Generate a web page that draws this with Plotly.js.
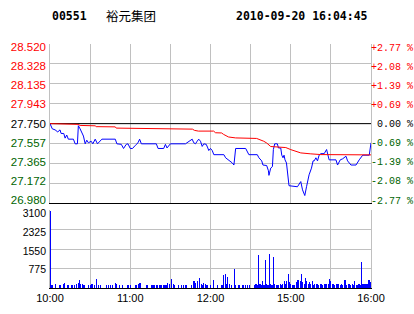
<!DOCTYPE html>
<html><head><meta charset="utf-8">
<script src="https://cdn.plot.ly/plotly-3.0.1.min.js"></script>
<style>html,body{margin:0;padding:0;background:#fff;}#chart{width:414px;height:314px;}
.barlayer path{shape-rendering:crispEdges;}</style>
</head><body><div id="chart"></div>
<script>
// ---- data ----
const stockCode = '00551';
const stockName = '裕元集团';
const stampText = '2010-09-20 16:04:45';
const prevClose = 27.75;
const priceTicks = [26.980, 27.172, 27.365, 27.557, 27.750, 27.943, 28.135, 28.328, 28.520];
const pctTicks = ['-2.77', '-2.08', '-1.39', '-0.69', '0.00', '+0.69', '+1.39', '+2.08', '+2.77'];
const volTicks = [775, 1550, 2325, 3100];
const timeTickVals = [0, 30, 60, 90, 120, 150, 180, 210, 240];   // trading minutes since 10:00
const timeTickText = ['10:00', '', '11:00', '', '12:00', '', '15:00', '', '16:00'];

// price line (trading minute, price)
const priceMin = [0, 1.7, 3.8, 5.8, 7.5, 8.3, 10.3, 11.3, 12.5, 13.7,
  17.5, 18.8, 20.5, 21.2, 22.5, 23.8, 25, 26.3, 27.5, 28.7,
  30.8, 32, 33.8, 35.5, 37.5, 38.8, 48.8, 50, 53.3, 55,
  57, 58.3, 60, 61.7, 63.8, 65.8, 67, 68.3, 79.5, 80.8,
  85, 86.3, 87.5, 88.7, 90, 101.3, 103, 105, 106.3, 107.5,
  108.8, 110, 111.2, 112.5, 113.8, 115, 116.8, 118, 118.7, 120,
  121.3, 122.5, 130, 131.3, 133.3, 135, 136.3, 137.5, 138.2, 138.8,
  146.3, 148.7, 155, 156.2, 158.3, 159.2, 162, 163.3, 163.7, 164.3,
  165, 166.3, 167, 168, 170, 170.8, 172.5, 173.3, 174.2, 175,
  175.7, 176.8, 177.5, 178.3, 178.7, 185, 187.5, 188.8, 190.5, 191.8,
  193.7, 195.5, 196.7, 197.5, 198.8, 200, 201.2, 202.5, 205, 206.8,
  207.5, 208.7, 213.8, 215, 217, 218.8, 221.3, 222.5, 225, 228.8,
  231.2, 233.8, 238.7, 239.5, 240];
const priceVal = [27.75, 27.70, 27.69, 27.67, 27.69, 27.655, 27.655, 27.61, 27.64, 27.60,
  27.60, 27.555, 27.555, 27.73, 27.70, 27.66, 27.63, 27.555, 27.59, 27.565,
  27.58, 27.555, 27.60, 27.555, 27.58, 27.60, 27.60, 27.555, 27.55, 27.51,
  27.55, 27.555, 27.51, 27.51, 27.54, 27.565, 27.60, 27.555, 27.555, 27.51,
  27.51, 27.55, 27.515, 27.53, 27.555, 27.555, 27.57, 27.595, 27.60, 27.565,
  27.555, 27.58, 27.60, 27.58, 27.53, 27.555, 27.55, 27.515, 27.49, 27.51,
  27.49, 27.45, 27.45, 27.42, 27.40, 27.39, 27.37, 27.35, 27.43, 27.51,
  27.51, 27.45, 27.45, 27.42, 27.39, 27.35, 27.345, 27.295, 27.25, 27.28,
  27.32, 27.335, 27.50, 27.555, 27.555, 27.515, 27.515, 27.445, 27.42, 27.445,
  27.40, 27.37, 27.30, 27.21, 27.15, 27.14, 27.19, 27.11, 27.055, 27.14,
  27.255, 27.32, 27.39, 27.39, 27.42, 27.39, 27.445, 27.46, 27.46, 27.50,
  27.465, 27.40, 27.40, 27.35, 27.40, 27.41, 27.435, 27.39, 27.35, 27.35,
  27.40, 27.445, 27.445, 27.50, 27.565];

// average price line
const avgMin = [0, 11.3, 11.6, 21, 22.5, 33.8, 34.5, 48.8, 49.5, 67.5,
  68.3, 106.5, 108, 111, 122.3, 123.8, 128.3, 129.8, 133.5, 138.8,
  154.5, 157.5, 159.8, 162, 163.5, 165, 172.5, 176.3, 180, 183.8,
  187.5, 195, 202.5, 240];
const avgVal = [27.75, 27.75, 27.743, 27.743, 27.733, 27.729, 27.721, 27.719, 27.707, 27.704,
  27.697, 27.697, 27.685, 27.678, 27.678, 27.662, 27.66, 27.646, 27.621, 27.612,
  27.607, 27.594, 27.58, 27.563, 27.548, 27.529, 27.522, 27.519, 27.499, 27.485,
  27.467, 27.458, 27.451, 27.448];

// volume bars (trading minute, volume)
const volMin = [0, 1, 2, 4, 7, 8, 10, 11, 13, 14,
  16, 17, 18, 20, 21, 22, 23, 24, 25, 26,
  29, 30, 31, 32, 33, 35, 36, 38, 42, 44,
  45, 47, 49, 50, 52, 54, 58, 59, 60, 64,
  65, 66, 67, 68, 72, 73, 76, 77, 78, 80,
  82, 83, 85, 86, 87, 88, 89, 91, 92, 93,
  96, 98, 100, 101, 102, 106, 107, 108, 109, 110,
  112, 113, 114, 115, 116, 117, 118,
  120, 122, 125, 128, 129, 130, 131, 132, 133, 134,
  136, 138, 139, 141, 142, 144, 145, 146, 148, 149,
  153, 154, 155, 156, 157, 158, 159, 160, 161, 162,
  163, 164, 165, 166, 167, 168, 169, 170, 171, 172,
  173, 174, 175, 176, 177, 178, 179, 180, 181, 182,
  183, 184, 185, 186, 187, 188, 189, 190, 191, 192,
  193, 194, 195, 196, 197, 198, 199, 200, 201, 202,
  203, 204, 205, 206, 207, 208, 209, 210, 211, 212,
  213, 214, 215, 216, 217, 218, 219, 220, 221, 222,
  223, 224, 225, 226, 227, 228, 229, 230, 231, 232,
  233, 234, 235, 236, 237, 238, 239, 240];
const volVal = [3070, 105, 105, 145, 105, 105, 145, 184, 105, 105,
  105, 105, 105, 145, 184, 304, 145, 145, 105, 105,
  105, 105, 145, 145, 105, 343, 105, 105, 105, 105,
  105, 105, 184, 145, 105, 105, 105, 105, 105, 105,
  105, 145, 184, 184, 105, 105, 105, 105, 105, 105,
  105, 105, 105, 105, 105, 184, 145, 343, 145, 105,
  105, 105, 105, 105, 105, 105, 264, 264, 184, 264,
  382, 145, 105, 184, 145, 105, 105,
  106, 330, 106, 106, 106, 528, 568, 158, 422, 158,
  106, 766, 106, 106, 106, 106, 106, 106, 106, 106,
  106, 158, 106, 1320, 158, 106, 264, 106, 1122, 158,
  106, 1346, 158, 106, 1214, 158, 106, 106, 106, 158,
  106, 158, 264, 158, 264, 554, 238, 158, 106, 106,
  106, 238, 330, 330, 264, 554, 238, 158, 396, 264,
  158, 238, 158, 264, 106, 158, 158, 158, 106, 158,
  158, 106, 158, 158, 158, 158, 370, 264, 158, 158,
  106, 158, 158, 158, 106, 158, 106, 330, 330, 106,
  158, 158, 106, 158, 106, 290, 106, 106, 158, 106,
  1030, 158, 158, 158, 158, 330, 330, 238];

// ---- styling ----
const GRID = '#c0c0c0';
const UP = '#ff0000', DOWN = '#006400', FLAT = '#000000';
function tone(v) { return Math.abs(v - prevClose) < 1e-6 ? FLAT : (v > prevClose ? UP : DOWN); }
const leftText = priceTicks.map(v => '<span style="color:' + tone(v) + '">' + v.toFixed(3) + '</span>');
const rightText = priceTicks.map((v, i) => '<span style="color:' + tone(v) + '">' +
  (pctTicks[i][0] === '+' || pctTicks[i][0] === '-' ? pctTicks[i] : '\u00a0' + pctTicks[i]) + ' %</span>');

const priceBottom = (288 - 203.3) / 244;
const volTop = (288 - 210) / 244;
const dayStart = timeTickVals[0], dayEnd = timeTickVals[timeTickVals.length - 1];

const traces = [
  // previous close reference line
  {type: 'scatter', mode: 'lines', x: [dayStart, dayEnd], y: [prevClose, prevClose], xaxis: 'x', yaxis: 'y',
   line: {color: '#000000', width: 1}, hoverinfo: 'skip'},
  {type: 'scatter', mode: 'lines', x: priceMin, y: priceVal, xaxis: 'x', yaxis: 'y',
   line: {color: '#0000ff', width: 1}, hoverinfo: 'skip'},
  {type: 'scatter', mode: 'lines', x: avgMin, y: avgVal, xaxis: 'x', yaxis: 'y',
   line: {color: '#ff0000', width: 1}, hoverinfo: 'skip'},
  {type: 'bar', x: volMin, y: volVal, xaxis: 'x2', yaxis: 'y4', width: 0.8,
   marker: {color: '#0000ff', line: {width: 0}}, hoverinfo: 'skip'},
  // empty carriers so the label-only overlay axes are drawn
  {type: 'scatter', mode: 'lines', x: [], y: [], xaxis: 'x', yaxis: 'y2', hoverinfo: 'skip'},
  {type: 'scatter', mode: 'lines', x: [], y: [], xaxis: 'x', yaxis: 'y3', hoverinfo: 'skip'},
  {type: 'scatter', mode: 'lines', x: [], y: [], xaxis: 'x2', yaxis: 'y5', hoverinfo: 'skip'}
];

const labelFont = {family: 'Liberation Sans, Arial, sans-serif', size: 11.5, color: '#000'};
const layout = {
  width: 414, height: 314,
  margin: {l: 50, r: 43, t: 44, b: 26, pad: 0},
  paper_bgcolor: '#ffffff', plot_bgcolor: '#ffffff',
  showlegend: false,
  xaxis: {domain: [0, 1], anchor: 'y', range: [dayStart, dayEnd], tickmode: 'array', tickvals: timeTickVals,
    showticklabels: false, ticks: '', showgrid: true, gridcolor: GRID, gridwidth: 1,
    showline: true, linecolor: '#000', linewidth: 1, zeroline: false},
  yaxis: {domain: [priceBottom, 1], anchor: 'x', range: [26.98, 28.52], tickmode: 'array', tickvals: priceTicks,
    showticklabels: false, ticks: '', showgrid: true, gridcolor: GRID, gridwidth: 1,
    showline: true, mirror: true, linecolor: GRID, linewidth: 1, zeroline: false},
  yaxis2: {overlaying: 'y', anchor: 'x', side: 'left', range: [26.947, 28.552], tickmode: 'array',
    tickvals: priceTicks, ticktext: leftText, showgrid: false, zeroline: false, showline: false,
    ticks: '', ticklabelstandoff: 3, tickfont: labelFont},
  yaxis3: {overlaying: 'y', anchor: 'x', side: 'right', range: [26.947, 28.552], tickmode: 'array',
    tickvals: priceTicks, ticktext: rightText, showgrid: false, zeroline: false, showline: false,
    ticks: '', ticklabelstandoff: -1, tickfont: {family: 'Liberation Mono, DejaVu Sans Mono, monospace', size: 10, color: '#000'}},
  xaxis2: {domain: [0, 1], anchor: 'y4', range: [dayStart, dayEnd], tickmode: 'array', tickvals: timeTickVals,
    ticktext: timeTickText, ticks: '', showgrid: true, gridcolor: GRID, gridwidth: 1,
    showline: true, linecolor: '#000', linewidth: 1, zeroline: false,
    tickfont: {family: 'Liberation Sans, Arial, sans-serif', size: 11, color: '#000'}},
  yaxis4: {domain: [0, volTop], anchor: 'x2', range: [0, 3100], tickmode: 'array', tickvals: volTicks,
    showticklabels: false, ticks: '', showgrid: true, gridcolor: GRID, gridwidth: 1,
    showline: true, mirror: true, linecolor: GRID, linewidth: 1, zeroline: false},
  yaxis5: {overlaying: 'y4', anchor: 'x2', side: 'left', range: [28.5, 3222], tickmode: 'array',
    tickvals: volTicks, ticktext: volTicks.map(String), showgrid: false, zeroline: false, showline: false,
    ticks: '', ticklabelstandoff: 3, tickfont: {family: 'Liberation Sans, Arial, sans-serif', size: 10.5, color: '#000'}},
  annotations: [
    {text: '<b>' + stockCode + '</b>', xref: 'paper', yref: 'paper', x: 0, y: 1.1148,
     xanchor: 'left', yanchor: 'middle', showarrow: false,
     font: {family: 'DejaVu Sans Mono, Liberation Mono, monospace', size: 11.5, color: '#000'}},
    {text: stockName, xref: 'paper', yref: 'paper', x: 0.168, y: 1.1148,
     xanchor: 'left', yanchor: 'middle', showarrow: false,
     font: {family: 'Noto Sans CJK SC, sans-serif', size: 12.5, color: '#000'}},
    {text: '<b>' + stampText + '</b>', xref: 'paper', yref: 'paper', x: 0.997, y: 1.1148,
     xanchor: 'right', yanchor: 'middle', showarrow: false,
     font: {family: 'DejaVu Sans Mono, Liberation Mono, monospace', size: 11.5, color: '#000'}}
  ]
};

Plotly.newPlot('chart', traces, layout, {staticPlot: true, displayModeBar: false});
</script>
</body></html>
